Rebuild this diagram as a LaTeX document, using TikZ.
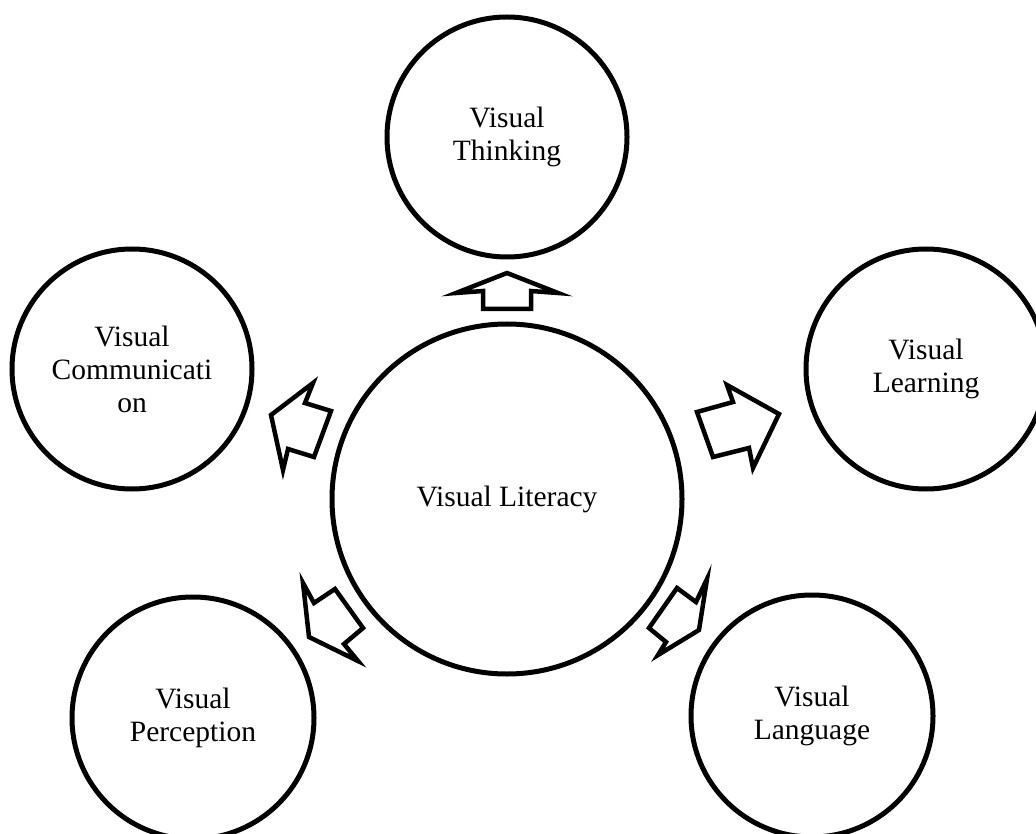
\documentclass[tikz,border=0pt]{standalone}
\usepackage{fontspec}
\setmainfont{Liberation Serif}
\begin{document}
\begin{tikzpicture}[x=1pt,y=-1pt,
  bubble/.style={circle,draw=black,line width=5pt,inner sep=0pt,align=center,
    font=\fontsize{29.5}{33}\selectfont},
  blockarrow/.style={draw=black,line width=4.5pt,fill=white,line join=miter}]
\useasboundingbox (0,0) rectangle (1036,834);
\fill[white] (0,0) rectangle (1036,834);
% circles
\node[bubble,minimum size=350pt] (lit) at (507,499) {Visual Literacy};
\node[bubble,minimum size=240pt] (think) at (507,137) {Visual\\Thinking};
\node[bubble,minimum size=240pt] (comm) at (132,369) {Visual\\Communicati\\on};
\node[bubble,minimum size=240pt] (learn) at (926,369) {Visual\\Learning};
\node[bubble,minimum size=242pt] (perc) at (193,718) {Visual\\Perception};
\node[bubble,minimum size=242pt] (lang) at (812,716) {Visual\\Language};
% block arrows
\draw[blockarrow] (507,273) -- (456,293) -- (483,291) -- (483,309) -- (531,309)
  -- (531,291) -- (558,293) -- cycle;
\draw[blockarrow] (313,383) -- (305,403) -- (331,411) -- (314,457) -- (288,449)
  -- (283,470) -- (271,415) -- cycle;
\draw[blockarrow] (727,385) -- (733,402) -- (697,412) -- (713,457) -- (749,448)
  -- (753,468) -- (779,414) -- cycle;
\draw[blockarrow] (303,583) -- (314,603) -- (335,589) -- (363,628) -- (344,644)
  -- (358,661) -- (309,637) -- cycle;
\draw[blockarrow] (707,579) -- (696,602) -- (677,588) -- (649,628) -- (666,642)
  -- (658,655) -- (699,630) -- cycle;
\end{tikzpicture}
\end{document}
